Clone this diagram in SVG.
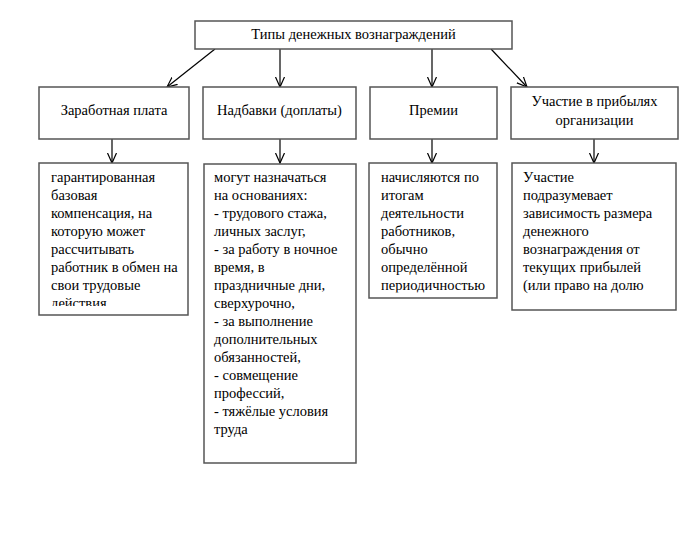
<svg xmlns="http://www.w3.org/2000/svg" width="694" height="559" viewBox="0 0 694 559">
<defs>
<style>
.box{fill:#fff;stroke:#555;stroke-width:1.5}
.t{font-family:"Liberation Serif","Times New Roman",serif;font-size:14.5px;fill:#000}
.c{text-anchor:middle}
.ln{stroke:#000;stroke-width:1.2;fill:none}
</style>
<marker id="ah" markerWidth="12" markerHeight="12" refX="10" refY="5" orient="auto" markerUnits="userSpaceOnUse" viewBox="0 0 12 10">
<path d="M0,0.5 L10,5 L0,9.5" fill="none" stroke="#000" stroke-width="1.2"/>
</marker>
<clipPath id="c1"><rect x="39" y="163" width="150" height="143"/></clipPath>
<clipPath id="c3"><rect x="369" y="163" width="128" height="129.5"/></clipPath>
<clipPath id="c4"><rect x="512" y="163" width="164" height="140"/></clipPath>
</defs>
<rect width="694" height="559" fill="#fff"/>

<g id="connectors">
<line class="ln" x1="215" y1="49" x2="167" y2="87" marker-end="url(#ah)"/>
<line class="ln" x1="280" y1="49" x2="280" y2="87" marker-end="url(#ah)"/>
<line class="ln" x1="432" y1="49" x2="432" y2="87" marker-end="url(#ah)"/>
<line class="ln" x1="491" y1="49" x2="527" y2="87" marker-end="url(#ah)"/>
<line class="ln" x1="112" y1="139" x2="112" y2="163" marker-end="url(#ah)"/>
<line class="ln" x1="280" y1="139" x2="280" y2="163" marker-end="url(#ah)"/>
<line class="ln" x1="432" y1="139" x2="432" y2="163" marker-end="url(#ah)"/>
<line class="ln" x1="594" y1="139" x2="594" y2="163" marker-end="url(#ah)"/>
</g>

<g id="root">
<rect class="box" x="195" y="21" width="317" height="28"/>
<text class="t c" x="353.5" y="38.5">Типы денежных вознаграждений</text>
</g>

<g id="salary">
<rect class="box" x="39" y="87" width="150" height="52"/>
<text class="t c" x="114" y="115">Заработная плата</text>
</g>
<g id="allowances">
<rect class="box" x="203" y="87" width="153" height="52"/>
<text class="t c" x="279.5" y="115">Надбавки (доплаты)</text>
</g>
<g id="bonuses">
<rect class="box" x="370" y="87" width="127" height="52"/>
<text class="t c" x="433.5" y="115">Премии</text>
</g>
<g id="profit">
<rect class="box" x="511" y="87" width="167" height="52"/>
<text class="t c" x="594.5" y="106">Участие в прибылях</text>
<text class="t c" x="594.5" y="125">организации</text>
</g>

<g id="salary-desc">
<rect class="box" x="39" y="163" width="149" height="152"/>
<text class="t" clip-path="url(#c1)">
<tspan x="51" y="182">гарантированная</tspan>
<tspan x="51" y="200">базовая</tspan>
<tspan x="51" y="218">компенсация,  на</tspan>
<tspan x="51" y="236">которую может</tspan>
<tspan x="51" y="254">рассчитывать</tspan>
<tspan x="51" y="272">работник в обмен на</tspan>
<tspan x="51" y="290">свои трудовые</tspan>
<tspan x="51" y="308">действия</tspan>
</text>
</g>

<g id="allowances-desc">
<rect class="box" x="204" y="164" width="152" height="299"/>
<text class="t">
<tspan x="214" y="182">могут назначаться</tspan>
<tspan x="214" y="200">на основаниях:</tspan>
<tspan x="214" y="218">- трудового стажа,</tspan>
<tspan x="214" y="236">личных заслуг,</tspan>
<tspan x="214" y="254">- за работу в ночное</tspan>
<tspan x="214" y="272">время, в</tspan>
<tspan x="214" y="290">праздничные дни,</tspan>
<tspan x="214" y="308">сверхурочно,</tspan>
<tspan x="214" y="326">- за выполнение</tspan>
<tspan x="214" y="344">дополнительных</tspan>
<tspan x="214" y="362">обязанностей,</tspan>
<tspan x="214" y="380">- совмещение</tspan>
<tspan x="214" y="398">профессий,</tspan>
<tspan x="214" y="416">- тяжёлые условия</tspan>
<tspan x="214" y="434">труда</tspan>
</text>
</g>

<g id="bonuses-desc">
<rect class="box" x="369" y="163" width="128" height="135"/>
<text class="t" clip-path="url(#c3)">
<tspan x="381" y="182">начисляются по</tspan>
<tspan x="381" y="200">итогам</tspan>
<tspan x="381" y="218">деятельности</tspan>
<tspan x="381" y="236">работников,</tspan>
<tspan x="381" y="254">обычно</tspan>
<tspan x="381" y="272">определённой</tspan>
<tspan x="381" y="290">периодичностью</tspan>
</text>
</g>

<g id="profit-desc">
<rect class="box" x="512" y="163" width="164" height="147"/>
<text class="t" clip-path="url(#c4)">
<tspan x="523" y="182">Участие</tspan>
<tspan x="523" y="200">подразумевает</tspan>
<tspan x="523" y="218">зависимость размера</tspan>
<tspan x="523" y="236">денежного</tspan>
<tspan x="523" y="254">вознаграждения от</tspan>
<tspan x="523" y="272">текущих прибылей</tspan>
<tspan x="523" y="290">(или право на долю</tspan>
</text>
</g>
</svg>
